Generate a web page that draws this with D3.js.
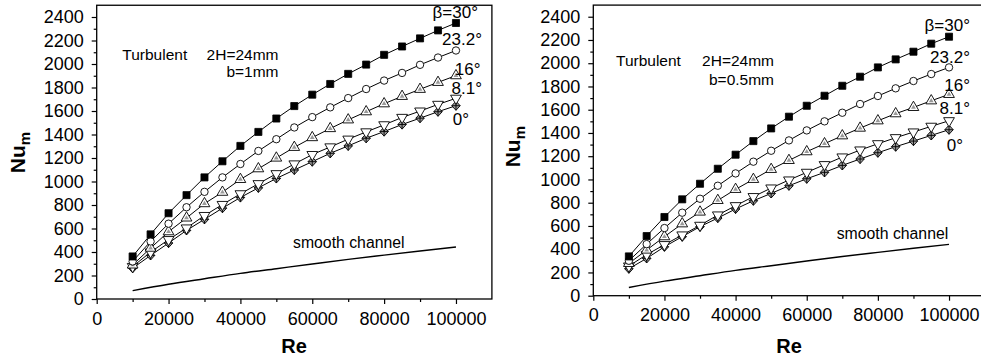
<!DOCTYPE html>
<html><head><meta charset="utf-8">
<script src="https://cdn.jsdelivr.net/npm/d3@7"></script>
<style>
html,body{margin:0;padding:0;background:#fff;}
svg{display:block;font-family:"Liberation Sans",Arial,sans-serif;}
</style></head>
<body>
<svg id="chart" width="981" height="363"></svg>
<script>
// ---------------- data ----------------
const re = [10000,15000,20000,25000,30000,35000,40000,45000,50000,55000,60000,65000,70000,75000,80000,85000,90000,95000,100000];
const reSmooth = [10000,20000,30000,40000,50000,60000,70000,80000,90000,100000];
const smoothChannel = [71,125,172,218,258,298,337,373,408,442];

const seriesNames = ["β=30°","23.2°","16°","8.1°","0°"];

// b = 1 mm (left panel)
const b1_30  = [362,550,730,884,1035,1172,1303,1422,1536,1642,1739,1830,1916,1995,2078,2149,2218,2286,2349];
const b1_232 = [320,490,641,781,912,1035,1149,1260,1360,1460,1548,1631,1710,1787,1859,1924,1993,2055,2115];
const b1_16  = [290,433,573,690,812,909,1018,1109,1200,1291,1374,1451,1525,1594,1662,1725,1785,1844,1901];
const b1_81  = [276,399,505,604,710,804,895,981,1066,1149,1229,1294,1360,1422,1482,1545,1599,1656,1708];
const b1_0   = [262,371,476,584,678,773,864,946,1026,1098,1169,1240,1303,1368,1425,1485,1539,1594,1645];

// b = 0.5 mm (right panel)
const b05_30  = [338,513,677,829,963,1092,1213,1330,1439,1540,1634,1720,1806,1884,1964,2033,2099,2168,2228];
const b05_232 = [301,444,582,714,834,946,1052,1153,1247,1336,1422,1500,1574,1649,1718,1784,1847,1907,1964];
const b05_16  = [278,393,508,619,720,820,915,1001,1087,1164,1239,1308,1376,1442,1505,1566,1620,1677,1732];
const b05_81  = [255,353,439,522,605,694,774,852,926,995,1061,1127,1193,1253,1307,1359,1408,1457,1505];
const b05_0   = [232,321,421,508,594,668,746,817,880,946,1006,1061,1121,1176,1230,1282,1330,1379,1428];

const xTicks = [0,20000,40000,60000,80000,100000];
const xMinor = [10000,30000,50000,70000,90000];
const yTicks = [0,200,400,600,800,1000,1200,1400,1600,1800,2000,2200,2400];
const yMinor = [100,300,500,700,900,1100,1300,1500,1700,1900,2100,2300];

// ---------------- layout ----------------
const panels = [
  { x0:96.7, x1:491.9, yb:299, yt:5.25, series:[b1_30,b1_232,b1_16,b1_81,b1_0],
    note1:"Turbulent", note2:"2H=24mm", note3:"b=1mm",
    n1:[122.3,59.5], n2:[278.5,59.5], n3:[278.5,76.7],
    labels:[[478,18],[482,45],[480.5,75],[482,94],[469,125]],
    smoothLbl:[293,248], numX:25, numY:152.5, reX:294, reY:352.5 },
  { x0:593.3, x1:984.6, yb:295.7, yt:5.1, series:[b05_30,b05_232,b05_16,b05_81,b05_0],
    note1:"Turbulent", note2:"2H=24mm", note3:"b=0.5mm",
    n1:[616,65.7], n2:[774,65.7], n3:[774,85],
    labels:[[970,31],[970,63],[970,90.5],[970,114],[963,150.5]],
    smoothLbl:[836.7,239], numX:520, numY:146.7, reX:789, reY:353 }
];

const svg = d3.select("#chart");

function drawMarker(g, type, cx, cy){
  const m = g.append("g").attr("transform",`translate(${cx},${cy})`);
  if(type===0){
    m.append("path").attr("d", d3.symbol().type(d3.symbolSquare).size(50)()).attr("fill","#000").attr("stroke","#000").attr("stroke-width",0.8);
  } else if(type===1){
    m.append("circle").attr("r",3.7).attr("fill","#fff").attr("stroke","#000").attr("stroke-width",0.9);
  } else if(type===2){
    m.append("path").attr("d", d3.symbol().type(d3.symbolTriangle).size(50)()).attr("fill","#fff").attr("stroke","#000").attr("stroke-width",0.9);
    m.append("path").attr("d", d3.symbol().type(d3.symbolTriangle).size(10)()).attr("fill","#999");
  } else if(type===3){
    m.append("path").attr("d", d3.symbol().type(d3.symbolTriangle).size(50)()).attr("transform","rotate(180)").attr("fill","#fff").attr("stroke","#000").attr("stroke-width",0.9);
  } else {
    m.append("path").attr("d","M0,-4.6L4.2,0L0,4.6L-4.2,0Z").attr("fill","#9a9a9a").attr("stroke","#000").attr("stroke-width",0.9);
    m.append("path").attr("d","M0,-4.6V4.6M-4.2,0H4.2").attr("stroke","#000").attr("stroke-width",0.9);
  }
}

panels.forEach(p => {
  const x = d3.scaleLinear().domain([0,110000]).range([p.x0,p.x1]);
  const y = d3.scaleLinear().domain([0,2500]).range([p.yb,p.yt]);
  const g = svg.append("g");

  // frame
  g.append("rect").attr("x",p.x0).attr("y",p.yt).attr("width",p.x1-p.x0).attr("height",p.yb-p.yt)
    .attr("fill","none").attr("stroke","#000").attr("stroke-width",1.3);

  // axes
  const ax = g.append("g").attr("transform",`translate(0,${p.yb})`)
    .call(d3.axisBottom(x).tickValues(xTicks).tickSize(5).tickPadding(8).tickFormat(d3.format("d")));
  const axm = g.append("g").attr("transform",`translate(0,${p.yb})`)
    .call(d3.axisBottom(x).tickValues(xMinor).tickSize(3).tickFormat(""));
  const ay = g.append("g").attr("transform",`translate(${p.x0},0)`)
    .call(d3.axisLeft(y).tickValues(yTicks).tickSize(5).tickPadding(8).tickFormat(d3.format("d")));
  const aym = g.append("g").attr("transform",`translate(${p.x0},0)`)
    .call(d3.axisLeft(y).tickValues(yMinor).tickSize(3).tickFormat(""));
  [ax,axm,ay,aym].forEach(a=>{
    a.select(".domain").remove();
    a.selectAll("line").attr("stroke","#000").attr("stroke-width",1.2);
    a.selectAll("text").attr("font-size","18px").attr("fill","#000").attr("font-family","Liberation Sans, Arial, sans-serif");
  });

  // smooth channel line
  const line = d3.line().x(d=>x(d[0])).y(d=>y(d[1]));
  g.append("path").datum(reSmooth.map((r,i)=>[r,smoothChannel[i]]))
    .attr("d",d3.line().curve(d3.curveMonotoneX).x(d=>x(d[0])).y(d=>y(d[1])))
    .attr("fill","none").attr("stroke","#000").attr("stroke-width",1.4);

  // series lines
  p.series.forEach((s,k)=>{
    g.append("path").datum(re.map((r,i)=>[r,s[i]])).attr("d",line)
      .attr("fill","none").attr("stroke","#000").attr("stroke-width",1);
  });
  // markers (drawn bottom series first)
  for(let k=p.series.length-1;k>=0;k--){
    const s = p.series[k];
    re.forEach((r,i)=>drawMarker(g,k,x(r),y(s[i])));
  }

  // series labels
  seriesNames.forEach((nm,k)=>{
    g.append("text").attr("x",p.labels[k][0]).attr("y",p.labels[k][1])
      .attr("text-anchor","end").attr("font-size","17px").attr("fill","#000").text(nm);
  });

  // notes
  g.append("text").attr("x",p.n1[0]).attr("y",p.n1[1]).attr("font-size","15.5px").text(p.note1);
  g.append("text").attr("x",p.n2[0]).attr("y",p.n2[1]).attr("text-anchor","end").attr("font-size","15.5px").text(p.note2);
  g.append("text").attr("x",p.n3[0]).attr("y",p.n3[1]).attr("text-anchor","end").attr("font-size","15.5px").text(p.note3);
  g.append("text").attr("x",p.smoothLbl[0]).attr("y",p.smoothLbl[1]).attr("font-size","15.8px").text("smooth channel");

  // axis titles
  const yt = g.append("text").attr("transform",`translate(${p.numX},${p.numY}) rotate(-90)`)
    .attr("text-anchor","middle").attr("font-weight","bold").attr("font-size","21px");
  yt.append("tspan").text("Nu");
  yt.append("tspan").attr("font-size","15px").attr("dy","5").text("m");
  g.append("text").attr("x",p.reX).attr("y",p.reY).attr("text-anchor","middle")
    .attr("font-weight","bold").attr("font-size","20px").text("Re");
});
</script>
</body></html>
